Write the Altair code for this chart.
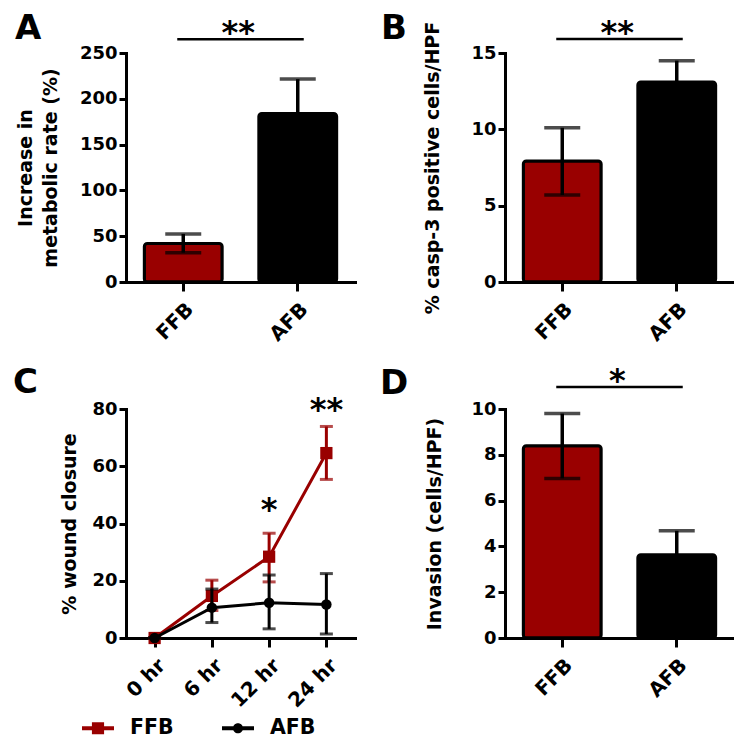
import altair as alt
import pandas as pd

RED = "#990000"
FONT = "DejaVu Sans"

# ---------------- data ----------------
groups = ["FFB", "AFB"]

a_mean = [42, 184]
a_hi = [52.5, 221.5]
a_lo = [32, None]

b_mean = [7.93, 13.1]
b_hi = [10.1, 14.5]
b_lo = [5.7, None]

d_mean = [8.4, 3.64]
d_hi = [9.8, 4.68]
d_lo = [6.97, None]

times = ["0 hr", "6 hr", "12 hr", "24 hr"]
ffb_mean = [0, 14.7, 28.4, 64.6]
ffb_hi = [0, 20.2, 36.6, 73.9]
ffb_lo = [0, 9.6, 19.6, 55.4]
afb_mean = [0, 10.6, 12.3, 11.7]
afb_hi = [0, 17.1, 22.0, 22.5]
afb_lo = [0, 5.4, 3.2, 1.4]

c_star_times = ["12 hr", "24 hr"]
c_star_y = [41.3, 76.0]
c_star_text = ["*", "**"]

W = 229
H = 229


def panel_title(letter, dx, offset):
    return alt.TitleParams(letter, anchor="start", frame="group", dx=dx, offset=offset,
                           fontSize=34, font=FONT, fontWeight="bold", color="black")


def bar_panel(letter, letter_dx, letter_off, mean, hi, lo, ymax, yvalues, ytitle, title_x, sig_y, stars):
    df = pd.DataFrame({
        "group": groups,
        "mean": mean,
        "hi": hi,
        "lo": [l if l is not None else m for l, m in zip(lo, mean)],
    })
    cap_rows = [{"group": g, "v": h} for g, h in zip(groups, hi)]
    cap_rows += [{"group": g, "v": l} for g, l in zip(groups, lo) if l is not None]
    caps = pd.DataFrame(cap_rows)
    sig = pd.DataFrame({"a": ["FFB"], "b": ["AFB"], "y": [sig_y], "t": [stars]})

    xscale = alt.Scale(domain=groups, paddingInner=0.32, paddingOuter=0.16)
    xaxis = alt.Axis(title=None, labelAngle=-45)
    yscale = alt.Scale(domain=[0, ymax], nice=False, zero=True)
    yaxis = alt.Axis(title=ytitle, values=yvalues, titleX=title_x, titleY=H / 2,
                     titleAngle=-90, titleAlign="center", titleBaseline="alphabetic")

    def X(f):
        return alt.X(f + ":N", scale=xscale, axis=xaxis)

    def Y(f):
        return alt.Y(f + ":Q", scale=yscale, axis=yaxis)

    bars = alt.Chart(df).mark_bar(stroke="black", strokeWidth=3, cornerRadius=3).encode(
        x=X("group"), y=Y("mean"),
        color=alt.Color("group:N", scale=alt.Scale(domain=groups, range=[RED, "black"]), legend=None),
    )
    rule = alt.Chart(df).mark_rule(strokeWidth=3.5, color="black").encode(
        x=X("group"), y=Y("lo"), y2="hi:Q")
    cap = alt.Chart(caps).mark_tick(thickness=3.5, size=36, color="black").encode(
        x=X("group"), y=Y("v"))
    line = alt.Chart(sig).mark_rule(strokeWidth=2.5, color="black", xOffset=-6, x2Offset=6).encode(
        x=X("a"), x2="b:N", y=Y("y"))
    txt = alt.Chart(sig).mark_text(dx=55, dy=4, font=FONT, fontSize=32, fontWeight="bold",
                                   baseline="alphabetic", align="center", color="black").encode(
        x=X("a"), y=Y("y"), text="t:N")
    return alt.layer(bars, rule, cap, line, txt).properties(
        width=W, height=H, title=panel_title(letter, letter_dx, letter_off))


A = bar_panel("A", -111, -29, a_mean, a_hi, a_lo, 250, [0, 50, 100, 150, 200, 250],
              ["Increase in", "metabolic rate (%)"], -95, 265, "**")
B = bar_panel("B", -124, -29, b_mean, b_hi, b_lo, 15, [0, 5, 10, 15],
              "% casp-3 positive cells/HPF", -67, 15.92, "**")
D = bar_panel("D", -125, -36, d_mean, d_hi, d_lo, 10, [0, 2, 4, 6, 8, 10],
              "Invasion (cells/HPF)", -65, 10.96, "*")

# ---------------- panel C ----------------
ffb = pd.DataFrame({"time": times, "mean": ffb_mean, "hi": ffb_hi, "lo": ffb_lo, "series": "FFB"})
afb = pd.DataFrame({"time": times, "mean": afb_mean, "hi": afb_hi, "lo": afb_lo, "series": "AFB"})
stars_c = pd.DataFrame({"time": c_star_times, "y": c_star_y, "t": c_star_text})

cx_scale = alt.Scale(type="point", domain=times, padding=0.5)
cx_axis = alt.Axis(title=None, labelAngle=-45)
cy_scale = alt.Scale(domain=[0, 80], nice=False)
cy_axis = alt.Axis(title="% wound closure", values=[0, 20, 40, 60, 80], titleX=-51, titleY=H / 2,
                   titleAngle=-90, titleAlign="center", titleBaseline="alphabetic")


def CX():
    return alt.X("time:N", scale=cx_scale, axis=cx_axis)


def CY(f):
    return alt.Y(f + ":Q", scale=cy_scale, axis=cy_axis)


def series_layers(df, color, shape, size):
    ln = alt.Chart(df).mark_line(color=color, strokeWidth=3).encode(x=CX(), y=CY("mean"))
    rl = alt.Chart(df).mark_rule(color=color, strokeWidth=3).encode(x=CX(), y=CY("lo"), y2="hi:Q")
    t1 = alt.Chart(df).mark_tick(color=color, thickness=3, size=13).encode(x=CX(), y=CY("hi"))
    t2 = alt.Chart(df).mark_tick(color=color, thickness=3, size=13).encode(x=CX(), y=CY("lo"))
    pt = alt.Chart(df).mark_point(color=color, filled=True, shape=shape, size=size, opacity=1).encode(
        x=CX(), y=CY("mean"))
    return [ln, rl, t1, t2, pt]


sq_path = "M-1,-0.12H1V0.12H-1Z M-0.38,-0.38H0.38V0.38H-0.38Z"
ci_path = "M-1,-0.12H1V0.12H-1Z M-0.32,0A0.32,0.32 0 1,1 0.32,0A0.32,0.32 0 1,1 -0.32,0Z"

leg = alt.Legend(title=None, orient="none", legendX=-44, legendY=303, direction="horizontal",
                 labelFont=FONT, labelFontSize=20.5, labelFontWeight="bold", labelColor="black",
                 symbolSize=1024, labelOffset=16, columnPadding=48, symbolStrokeWidth=0,
                 symbolOpacity=1, padding=0)
# legend-only layer: transparent points, only its legend is seen
legend_layer = alt.Chart(pd.concat([ffb, afb])).mark_point(
    filled=True, size=1024, opacity=0).encode(
    x=CX(), y=CY("mean"),
    color=alt.Color("series:N", scale=alt.Scale(domain=groups, range=[RED, "black"]), legend=leg),
    shape=alt.Shape("series:N", scale=alt.Scale(domain=groups, range=[sq_path, ci_path]), legend=leg),
)
star_layer = alt.Chart(stars_c).mark_text(font=FONT, fontSize=32, fontWeight="bold",
                                          baseline="alphabetic", align="center", color="black").encode(
    x=CX(), y=CY("y"), text="t:N")

C = alt.layer(
    legend_layer,
    *series_layers(ffb, RED, "square", 150),
    *series_layers(afb, "black", "circle", 110),
    star_layer,
).properties(width=W, height=H, title=panel_title("C", -113, -6))

chart = alt.concat(A, B, C, D, columns=2, spacing={"row": 20, "column": 25}).resolve_scale(
    color="independent", shape="independent"
).properties(
    padding={"left": 5, "top": 3, "right": 0, "bottom": 0}
).configure_view(stroke=None).configure_axis(
    grid=False, domainColor="black", domainWidth=3, domainCap="square",
    tickColor="black", tickWidth=3, tickSize=7,
    labelColor="black", labelFont=FONT, labelFontWeight="bold", labelFontSize=18, labelPadding=2,
    titleColor="black", titleFont=FONT, titleFontWeight="bold", titleFontSize=19, titleLineHeight=25.5,
).configure_axisX(labelFontSize=20, tickSize=9, labelPadding=8).configure_title(
    font=FONT, fontWeight="bold", color="black")

chart.save("out.html", embed_options={"renderer": "svg", "actions": False})
